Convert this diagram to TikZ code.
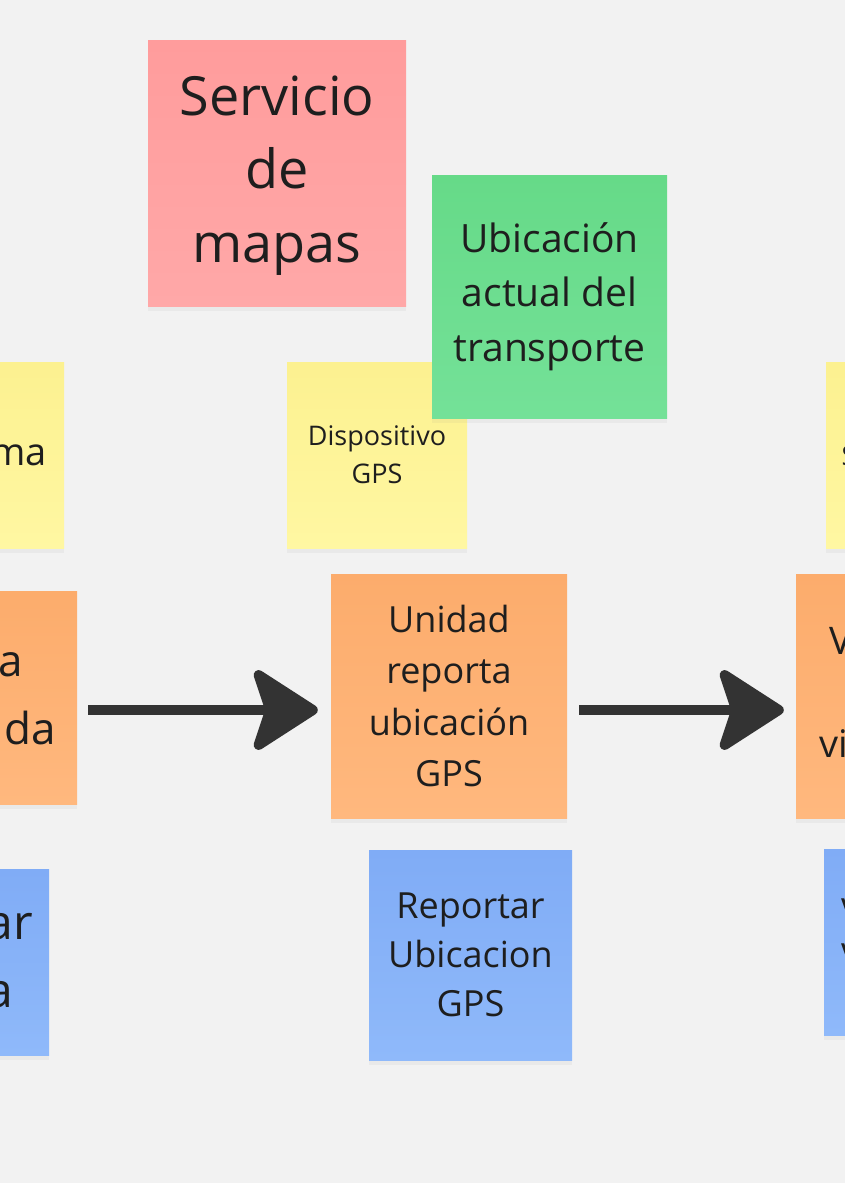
\documentclass[tikz,border=0pt]{standalone}
\usepackage{fontspec}
\setmainfont{Open Sans}
\usetikzlibrary{arrows.meta,shadows}
\definecolor{bg}{HTML}{F2F2F2}
\definecolor{ink}{HTML}{1E1E1E}
\definecolor{pinkT}{HTML}{FF9C9C}\definecolor{pinkB}{HTML}{FFA8A8}
\definecolor{greenT}{HTML}{66DA88}\definecolor{greenB}{HTML}{74E198}
\definecolor{yelT}{HTML}{FCF190}\definecolor{yelB}{HTML}{FFF7A2}
\definecolor{oraT}{HTML}{FCAC6C}\definecolor{oraB}{HTML}{FFB87E}
\definecolor{bluT}{HTML}{80ACF6}\definecolor{bluB}{HTML}{8FB9FA}
\definecolor{arrowc}{HTML}{333333}
\tikzset{
  note/.style={rectangle, inner sep=0pt, draw=none, text=ink, align=center,
    drop shadow={opacity=0.07, shadow xshift=0pt, shadow yshift=-5pt}},
  pinknote/.style={note, top color=pinkT, bottom color=pinkB},
  greennote/.style={note, top color=greenT, bottom color=greenB},
  yelnote/.style={note, top color=yelT, bottom color=yelB},
  oranote/.style={note, top color=oraT, bottom color=oraB},
  blunote/.style={note, top color=bluT, bottom color=bluB},
  frag/.style={inner sep=0pt, text=ink},
  conn/.style={draw=arrowc, line width=10pt,
    -{Stealth[length=72pt, width=92pt, inset=15pt, round]}}
}
\begin{document}
\begin{tikzpicture}[x=1pt,y=-1pt]
\fill[bg] (0,0) rectangle (845,1183);
\useasboundingbox (0,0) rectangle (845,1183);
\coordinate (arrowrow) at (0,710);
% pink
\node[pinknote, minimum width=258pt, minimum height=266pt, text depth=8pt,
  font=\fontsize{54}{73.5}\selectfont] (map) at (277,173)
  {Servicio\\de\\mapas};
% yellow row
\node[yelnote, minimum width=214pt, minimum height=186pt] (yl) at (-43,455) {};
\node[frag, anchor=east, font=\fontsize{38}{50}\selectfont] (ylt) at (47,455) {ma};
\node[yelnote, minimum width=180pt, minimum height=186pt,
  font=\fontsize{27}{38}\selectfont] (yc) at (377,455)
  {Dispositivo\\GPS};
\node[yelnote, minimum width=200pt, minimum height=186pt] (yr) at (926,455) {};
\node[frag, anchor=west, font=\fontsize{27}{38}\selectfont] (yrt) at (841.5,456) {S};
% green
\node[greennote, minimum width=235pt, minimum height=243pt,
  font=\fontsize{39}{54.5}\selectfont] (gr) at (549.5,296.5)
  {Ubicación\\actual del\\transporte};
% orange row
\node[oranote, minimum width=230pt, minimum height=213pt] (ol) at (-38,697.5) {};
\node[frag, anchor=east, font=\fontsize{44}{60}\selectfont] (olt1) at (23,665) {a};
\node[frag, anchor=east, font=\fontsize{44}{60}\selectfont] (olt2) at (56,728) {da};
\node[oranote, minimum width=236pt, minimum height=244pt,
  font=\fontsize{36}{51.5}\selectfont] (oc) at (449,696)
  {Unidad\\reporta\\ubicación\\GPS};
\node[oranote, minimum width=236pt, minimum height=244pt] (orr) at (914,696) {};
\node[frag, anchor=west, font=\fontsize{38}{50}\selectfont] (ort1) at (829,641) {V};
\node[frag, anchor=west, font=\fontsize{38}{50}\selectfont] (ort2) at (819,744) {vi};
% blue row
\node[blunote, minimum width=210pt, minimum height=186pt] (bl) at (-56,962) {};
\node[frag, anchor=east, font=\fontsize{48}{60}\selectfont] (blt1) at (33,927) {ar};
\node[frag, anchor=east, font=\fontsize{48}{60}\selectfont] (blt2) at (13,995) {a};
\node[blunote, minimum width=203pt, minimum height=210pt,
  font=\fontsize{36}{49}\selectfont] (bc) at (470.5,955)
  {Reportar\\Ubicacion\\GPS};
\node[blunote, minimum width=200pt, minimum height=186pt] (br) at (924,942) {};
\node[frag, anchor=west, font=\fontsize{36}{48}\selectfont] (brt1) at (841,912) {V};
\node[frag, anchor=west, font=\fontsize{36}{48}\selectfont] (brt2) at (841,957) {V};
% arrows
\draw[conn, shorten <=11pt, shorten >=13pt] (ol.east |- arrowrow) -- (oc.west |- arrowrow);
\draw[conn, shorten <=12pt, shorten >=12pt] (oc.east |- arrowrow) -- (orr.west |- arrowrow);
\end{tikzpicture}
\end{document}
